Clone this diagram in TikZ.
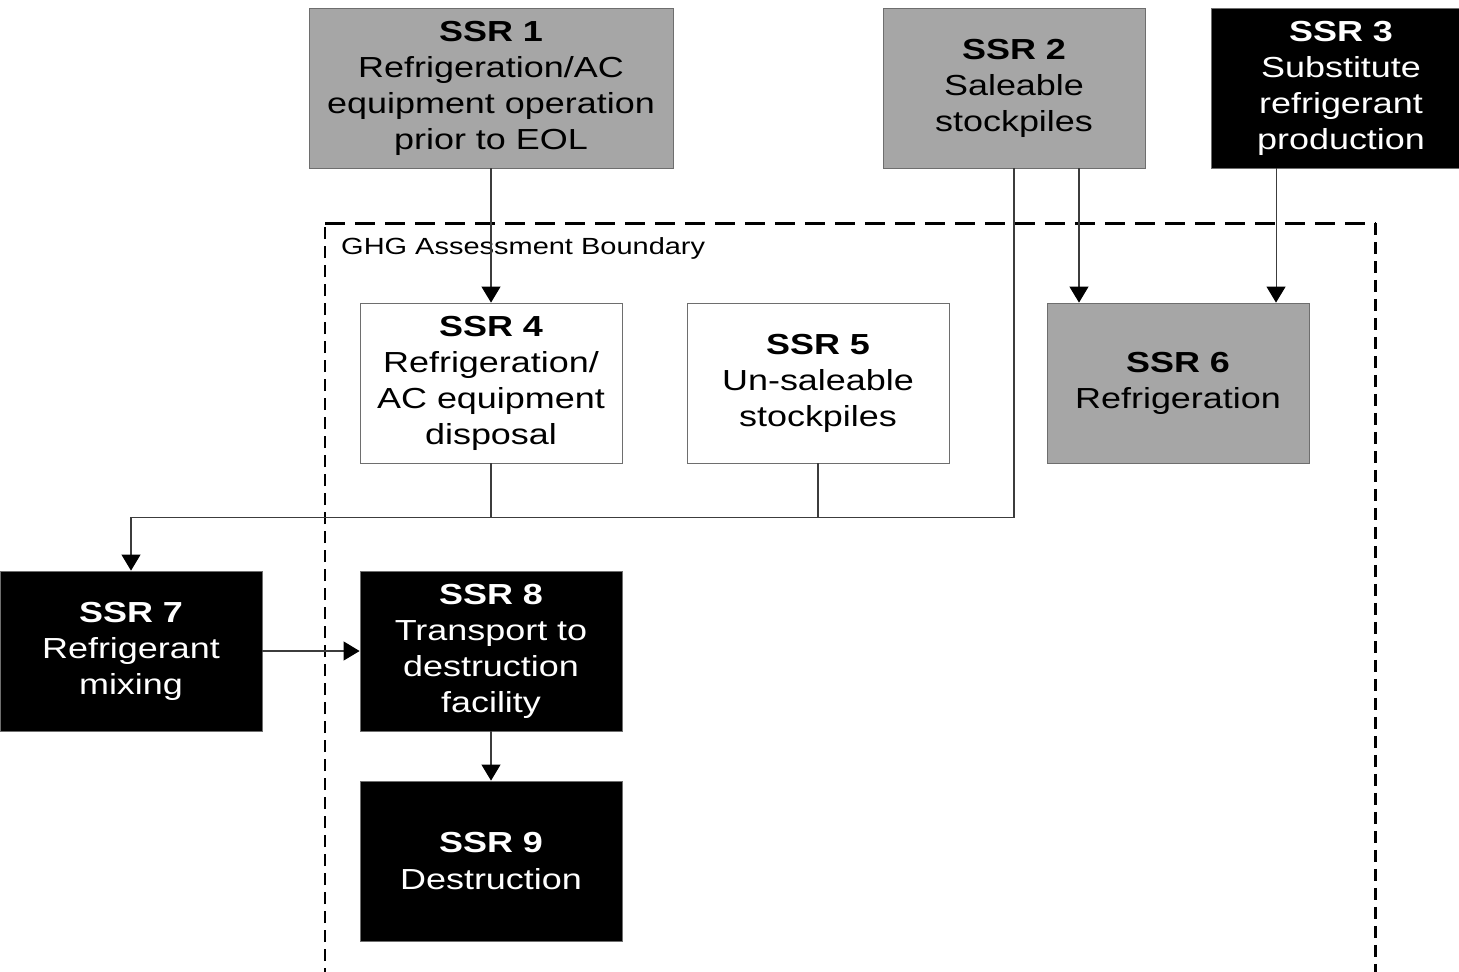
\documentclass[tikz,border=0pt]{standalone}
\usepackage{fontspec}
\setmainfont[FakeStretch=1.24]{Liberation Sans}
\usetikzlibrary{arrows.meta}
\definecolor{ssrgray}{RGB}{166,166,166}
\definecolor{ssrline}{RGB}{110,110,110}
\definecolor{flowline}{RGB}{60,60,60}
\tikzset{
	ssrbox/.style  = {draw=ssrline, line width=0.5pt, inner sep=0pt, align=center,
	                  minimum width=5.24cm, minimum height=3.2cm,
	                  font=\fontsize{16.5}{20.5}\selectfont},
	ssrgrey/.style = {ssrbox, fill=ssrgray, text=black},
	ssrdark/.style = {ssrbox, fill=black, text=white},
	ssrlight/.style= {ssrbox, fill=white, text=black},
	flow/.style    = {draw=flowline, line width=0.6pt},
	flowarrow/.style = {flow, -{Triangle[width=0.38cm,length=0.32cm,color=black,fill=black]}},
	boundary/.style  = {draw=black, line width=1.7pt}
}

\begin{document}
\begin{tikzpicture}[x=0.02cm, y=-0.02cm]
	\useasboundingbox (0,0) rectangle (1459,971);
	% assessment boundary
	\draw[boundary, dash pattern=on 0.4cm off 0.2cm] (325,223) -- (1375,223);
	\draw[boundary, dash pattern=on 0.24cm off 0.14cm] (325,980) -- (325,223);
	\draw[boundary, dash pattern=on 0.24cm off 0.14cm] (1375,223) -- (1375,980);
	\node[anchor=west, font=\fontsize{13.3}{16}\selectfont] (gab) at (335,248) {GHG Assessment Boundary};
	% sources, sinks and reservoirs
	\node[ssrgrey, minimum width=7.28cm] (ssr1) at (491,88) {\textbf{SSR 1}\\Refrigeration/AC\\equipment operation\\prior to EOL};
	\node[ssrgrey] (ssr2) at (1014,88) {\textbf{SSR 2}\\Saleable\\stockpiles};
	\node[ssrdark, minimum width=5.2cm] (ssr3) at (1341,88) {\textbf{SSR 3}\\Substitute\\refrigerant\\production};
	\node[ssrlight] (ssr4) at (491,383) {\textbf{SSR 4}\\Refrigeration/\\AC equipment\\disposal};
	\node[ssrlight] (ssr5) at (818,383) {\textbf{SSR 5}\\Un-saleable\\stockpiles};
	\node[ssrgrey] (ssr6) at (1178,383) {\textbf{SSR 6}\\Refrigeration};
	\node[ssrdark] (ssr7) at (131,651) {\textbf{SSR 7}\\Refrigerant\\mixing};
	\node[ssrdark] (ssr8) at (491,651) {\textbf{SSR 8}\\Transport to\\destruction\\facility};
	\node[ssrdark] (ssr9) at (491,861) {\textbf{SSR 9}\\Destruction};
	% flows
	\draw[flowarrow] (ssr1.south) -- (ssr4.north);
	\draw[flowarrow] ([xshift=1.3cm]ssr2.south) -- ([xshift=1.3cm]ssr2.south |- ssr6.north);
	\draw[flowarrow] ([xshift=-1.3cm]ssr3.south) -- ([xshift=-1.3cm]ssr3.south |- ssr6.north);
	\draw[flowarrow] (ssr2.south) -- ++(0,349) -| (ssr7.north);
	\draw[flow] (ssr4.south) -- ++(0,54);
	\draw[flow] (ssr5.south) -- ++(0,54);
	\draw[flowarrow] (ssr7.east) -- (ssr8.west);
	\draw[flowarrow] (ssr8.south) -- (ssr9.north);
\end{tikzpicture}
\end{document}
